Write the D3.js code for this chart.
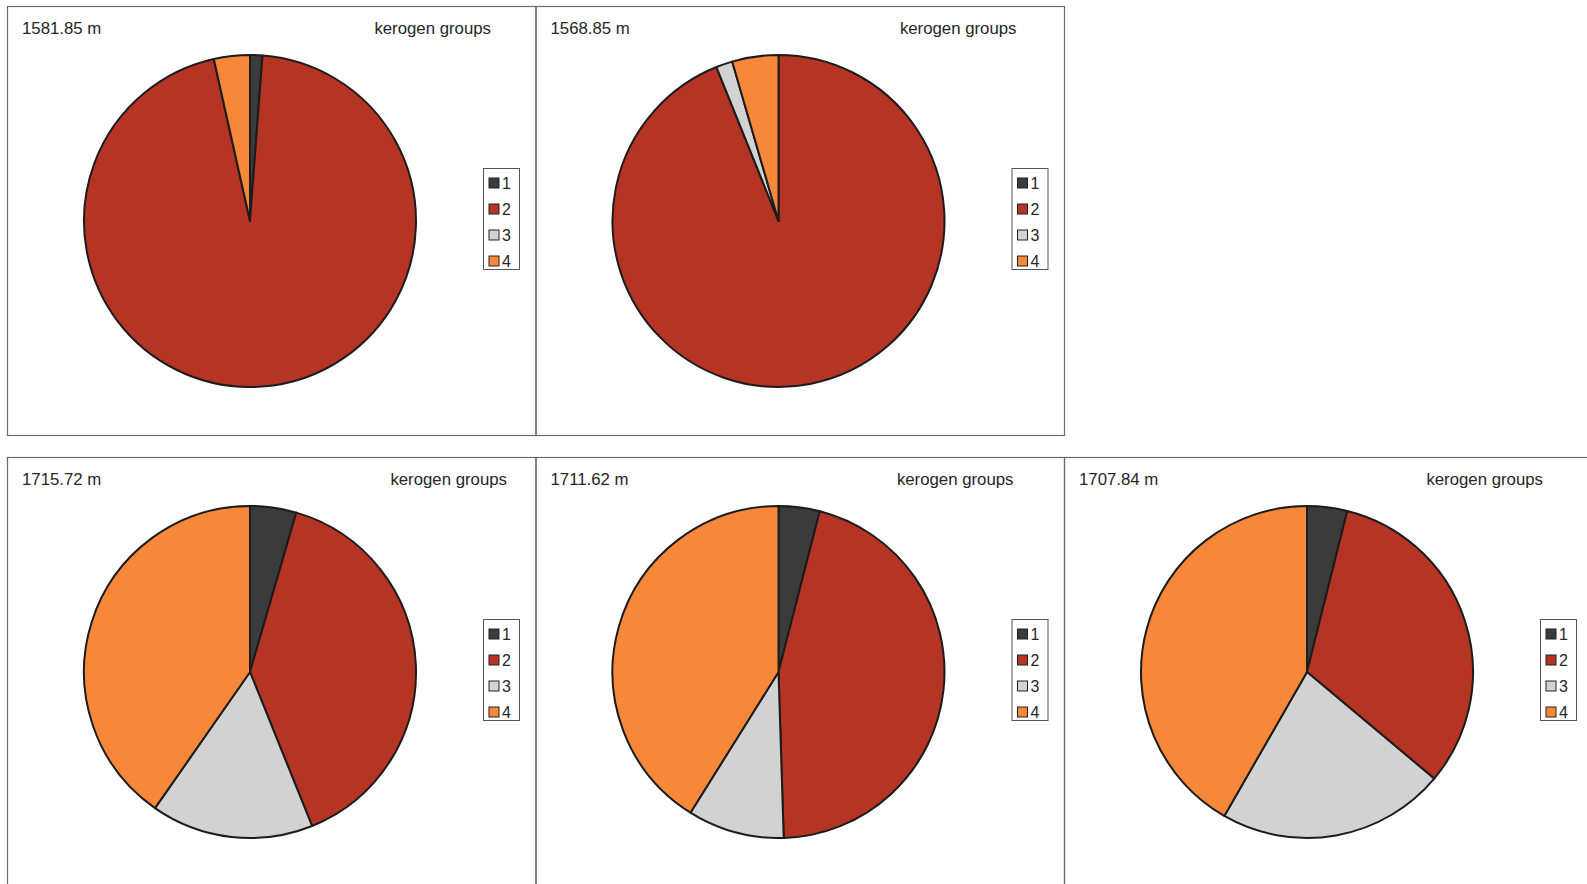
<!DOCTYPE html>
<html>
<head>
<meta charset="utf-8">
<script src="https://cdn.jsdelivr.net/npm/d3@7"></script>
<style>
  html, body { margin: 0; padding: 0; background: #fff; }
  svg { display: block; }
  text { font-family: "Liberation Sans", Arial, sans-serif; }
</style>
</head>
<body>
<svg id="chart" width="1587" height="884"></svg>
<script>
// ---- data (percent of kerogen groups per sample depth) ----
const depths = ["1581.85 m", "1568.85 m", "1715.72 m", "1711.62 m", "1707.84 m"];
const groups = ["1", "2", "3", "4"];
const group1 = [1.2, 0.0, 4.5, 4.0, 3.9];
const group2 = [95.3, 93.9, 39.4, 45.5, 32.2];
const group3 = [0.0, 1.6, 15.8, 9.4, 22.2];
const group4 = [3.5, 4.5, 40.3, 41.1, 41.7];
const chartTitle = "kerogen groups";

// ---- layout (positions only) ----
const panelCol = [0, 1, 0, 1, 2];
const panelRow = [0, 0, 1, 1, 1];
const titleRight = [484, 481, 500, 478, 479];

const colors = ["#3b3b3b", "#b63424", "#d2d2d2", "#f7883a"];
const seriesByGroup = [group1, group2, group3, group4];

const svg = d3.select("#chart");
const panelW = 528.5, panelH = 429, rowStep = 451;
const x0 = 7, y0 = 6;
const R = 166;

const color = d3.scaleOrdinal().domain(groups).range(colors);
const pie = d3.pie().sort(null).value(d => d.value);
const arc = d3.arc().innerRadius(0).outerRadius(R);

depths.forEach((depth, i) => {
  const px = x0 + panelCol[i] * panelW;
  const py = y0 + panelRow[i] * rowStep;
  const g = svg.append("g").attr("transform", `translate(${px},${py})`);

  // frame
  g.append("rect")
    .attr("x", 0.5).attr("y", 0.5)
    .attr("width", panelW).attr("height", panelH)
    .attr("fill", "none")
    .attr("stroke", "#6a6a6a")
    .attr("stroke-width", 1.2);

  // titles
  g.append("text")
    .attr("x", 15).attr("y", 28)
    .attr("font-size", 16.8)
    .attr("fill", "#262626")
    .text(depth);
  g.append("text")
    .attr("x", titleRight[i]).attr("y", 28)
    .attr("text-anchor", "end")
    .attr("font-size", 16.8)
    .attr("fill", "#262626")
    .text(chartTitle);

  // pie
  const data = groups.map((k, j) => ({ key: k, value: seriesByGroup[j][i] }));
  const pg = g.append("g").attr("transform", `translate(243,215)`);
  pg.selectAll("path.slice")
    .data(pie(data).filter(d => d.data.value > 0))
    .join("path")
    .attr("class", "slice")
    .attr("d", arc)
    .attr("fill", d => color(d.data.key))
    .attr("stroke", "#1c1c1c")
    .attr("stroke-width", 2)
    .attr("stroke-linejoin", "round");

  // legend
  const lg = g.append("g").attr("transform", `translate(476,162)`);
  lg.append("rect")
    .attr("x", 0.5).attr("y", 0.5)
    .attr("width", 36).attr("height", 101)
    .attr("fill", "#fff")
    .attr("stroke", "#555")
    .attr("stroke-width", 1);
  const items = lg.selectAll("g.item")
    .data(groups)
    .join("g")
    .attr("class", "item")
    .attr("transform", (d, j) => `translate(0,${15 + j * 26})`);
  items.append("rect")
    .attr("x", 6).attr("y", -5)
    .attr("width", 10).attr("height", 10)
    .attr("fill", d => color(d))
    .attr("stroke", "#222")
    .attr("stroke-width", 1);
  items.append("text")
    .attr("x", 19).attr("y", 6)
    .attr("font-size", 16)
    .attr("fill", "#262626")
    .text(d => d);
});
</script>
</body>
</html>
